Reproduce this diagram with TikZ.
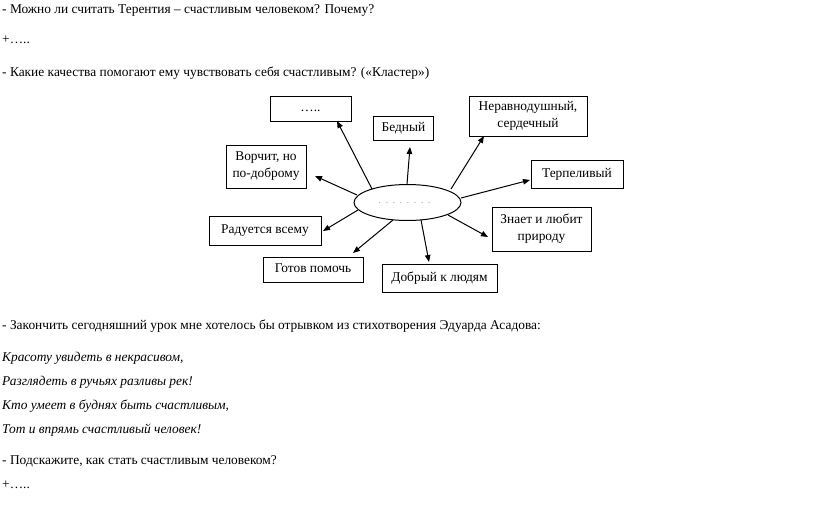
\documentclass[tikz,border=0pt]{standalone}
\usepackage{fontspec}
\setmainfont{Liberation Serif}
\usetikzlibrary{arrows.meta,shapes.geometric}
\newcommand{\dotgap}{\kern4.8pt}
\begin{document}
\begin{tikzpicture}[x=1pt,y=-1pt,
  txt/.style={anchor=base west,inner sep=0pt,font=\fontsize{13.4}{16}\selectfont},
  itxt/.style={txt,font=\fontsize{13.4}{16}\selectfont\itshape},
  box/.style={draw,line width=1pt,inner sep=0pt,align=center,font=\fontsize{13.4}{17}\selectfont},
  arr/.style={line width=1pt,-{Triangle[length=7pt,width=5.5pt]}}]
\useasboundingbox (0,0) rectangle (816,506);
\fill[white] (0,0) rectangle (816,506);
% text lines
\node[txt] (l1) at (2,13) {- Можно ли считать Терентия – счастливым человеком? Почему?};
\node[txt] (l2) at (2,43) {+…..};
\node[txt] (l3) at (2,76) {- Какие качества помогают ему чувствовать себя счастливым? («Кластер»)};
\node[txt] (l4) at (2,329) {- Закончить сегодняшний урок мне хотелось бы отрывком из стихотворения Эдуарда Асадова:};
\node[itxt] (p1) at (2,361) {Красоту увидеть в некрасивом,};
\node[itxt] (p2) at (2,385) {Разглядеть в ручьях разливы рек!};
\node[itxt] (p3) at (2,409) {Кто умеет в буднях быть счастливым,};
\node[itxt] (p4) at (2,433) {Тот и впрямь счастливый человек!};
\node[txt] (l5) at (2,464) {- Подскажите, как стать счастливым человеком?};
\node[txt] (l6) at (2,488) {+…..};
% ellipse
\node[draw,ellipse,line width=1pt,minimum width=107pt,minimum height=36pt,inner sep=0pt] (ell) at (407.5,202.5) {};
\node[text=gray,font=\fontsize{9}{9}\selectfont,inner sep=0pt] (dots) at (404.5,203.5) {.\dotgap.\dotgap.\dotgap.\dotgap.\dotgap.\dotgap.\dotgap.};
% boxes
\node[box,minimum width=81pt,minimum height=25pt] (b1) at (310.5,108.5) {\strut…..};
\node[box,minimum width=60pt,minimum height=24pt] (b2) at (403.5,128.5) {\strut Бедный};
\node[box,minimum width=118pt,minimum height=40pt] (b3) at (528,116) {Неравнодушный,\\сердечный};
\node[box,minimum width=80pt,minimum height=43pt] (b4) at (266,166.5) {Ворчит, но\\по-доброму};
\node[box,minimum width=92pt,minimum height=28pt] (b5) at (577,174) {\strut Терпеливый};
\node[box,minimum width=112pt,minimum height=29pt] (b6) at (265,230.5) {\strut Радуется всему};
\node[box,minimum width=99pt,minimum height=44pt] (b7) at (541.5,229) {Знает и любит\\природу};
\node[box,minimum width=100pt,minimum height=25pt] (b8) at (313,269.5) {\strut Готов помочь};
\node[box,minimum width=115pt,minimum height=28pt] (b9) at (439.5,278) {\strut Добрый к людям};
% arrow end points
\coordinate (s1) at (372,189); \coordinate (t1) at (337,121);
\coordinate (s2) at (407,184); \coordinate (t2) at (410,147);
\coordinate (s3) at (451,189); \coordinate (t3) at (484,136);
\coordinate (s4) at (357,195); \coordinate (t4) at (315,176);
\coordinate (s5) at (461,198); \coordinate (t5) at (530,180);
\coordinate (s6) at (358,210); \coordinate (t6) at (323,231);
\coordinate (s7) at (448,215); \coordinate (t7) at (488,237);
\coordinate (s8) at (393,220); \coordinate (t8) at (353,253);
\coordinate (s9) at (421,220); \coordinate (t9) at (429,262);
\foreach \i in {1,...,9} {\draw[arr] (s\i) -- (t\i);}
\end{tikzpicture}
\end{document}
